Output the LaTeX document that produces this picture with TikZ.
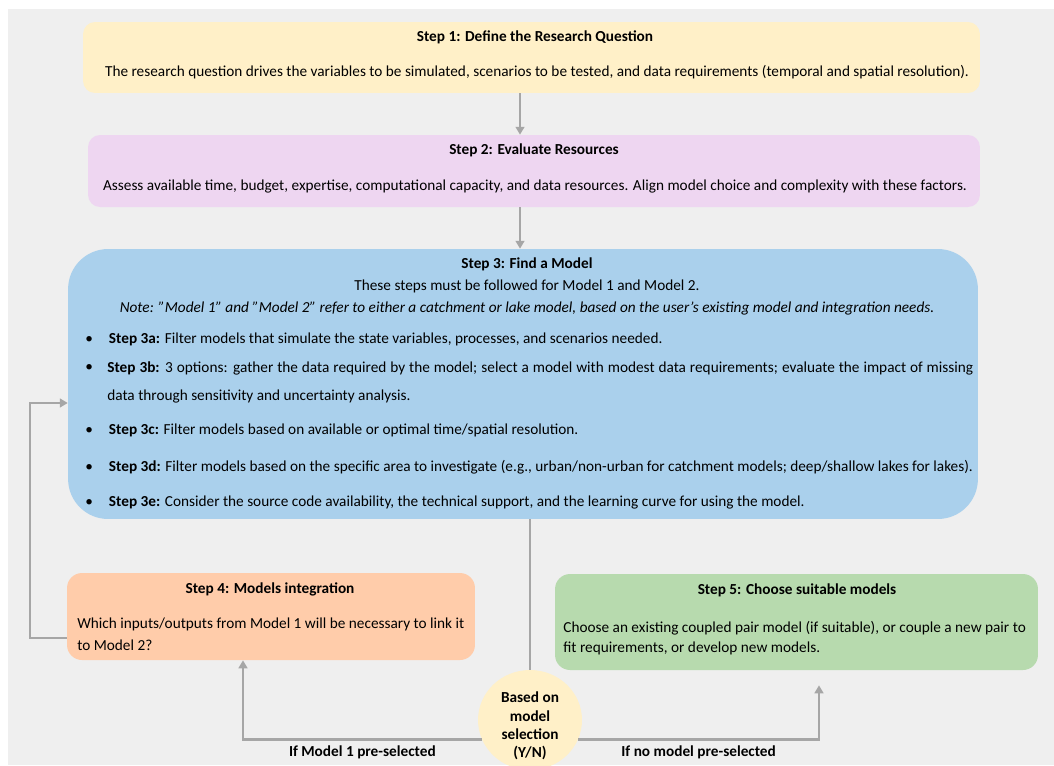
\documentclass[tikz,border=0pt]{standalone}
\usepackage{fontspec}
\setmainfont{Carlito}
\usetikzlibrary{arrows.meta,calc,positioning,shapes.geometric}
\definecolor{panelgray}{RGB}{239,239,239}
\definecolor{stepyellow}{RGB}{255,240,200}
\definecolor{steplilac}{RGB}{238,214,241}
\definecolor{stepblue}{RGB}{170,208,236}
\definecolor{steporange}{RGB}{255,204,170}
\definecolor{stepgreen}{RGB}{183,218,174}
\definecolor{flowgray}{RGB}{166,166,166}
\tikzset{
  stepbox/.style={rounded corners=0.24cm,inner sep=0pt},
  body/.style={font=\fontsize{8.7}{10.5}\selectfont,inner sep=0pt},
  head/.style={font=\fontsize{8.7}{10.5}\selectfont\bfseries,inner sep=0pt},
  flow/.style={draw=flowgray,line width=1.4pt,-{Triangle[width=5pt,length=4.5pt]}},
  link/.style={draw=flowgray,line width=1.4pt}
}

\begin{document}
\begin{tikzpicture}[x=0.02cm,y=-0.02cm]
  \useasboundingbox (0,0) rectangle (1054,765);
  % grauer Hintergrund
  \fill[panelgray] (8,9) rectangle (1054,765);

  % Step 1
  \node[stepbox,fill=stepyellow,minimum width=17.94cm,minimum height=1.42cm]
    (s1) at (531.5,57.5) {};
  \node[head] (s1h) at (535,37) {Step 1: Define the Research Question};
  \node[body] (s1b) at (537,72)
    {The research question drives the variables to be simulated, scenarios to be tested, and data requirements (temporal and spatial resolution).};

  % Step 2
  \node[stepbox,fill=steplilac,minimum width=17.84cm,minimum height=1.44cm]
    (s2) at (534,171) {};
  \node[head] (s2h) at (534,150) {Step 2: Evaluate Resources};
  \node[body] (s2b) at (535,186)
    {Assess available time, budget, expertise, computational capacity, and data resources. Align model choice and complexity with these factors.};

  % Step 3
  \node[stepbox,rounded corners=0.8cm,fill=stepblue,minimum width=18.2cm,minimum height=5.4cm]
    (s3) at (523,384) {};
  \node[head] (s3h) at (527,264) {Step 3: Find a Model};
  \node[body] (s3b) at (527,286) {These steps must be followed for Model 1 and Model 2.};
  \node[body] (s3n) at (527,308)
    {\itshape Note: "Model 1" and "Model 2" refer to either a catchment or lake model, based on the user’s existing model and integration needs.};

  \node[body,anchor=west] (s3a) at (85,339)
    {\textbullet\hspace{0.32cm}\textbf{Step 3a:} Filter models that simulate the state variables, processes, and scenarios needed.};
  \node[body,anchor=west] (s3bb) at (85,368) {\textbullet};
  \node[body,anchor=west,text width=17.32cm,align=justify,font=\fontsize{8.7}{15.9}\selectfont] (s3bt) at (107,382)
    {\textbf{Step 3b:} 3 options: gather the data required by the model; select a model with modest data requirements; evaluate the impact of missing data through sensitivity and uncertainty analysis.};
  \node[body,anchor=west] (s3c) at (85,430)
    {\textbullet\hspace{0.32cm}\textbf{Step 3c:} Filter models based on available or optimal time/spatial resolution.};
  \node[body,anchor=west] (s3d) at (85,467)
    {\textbullet\hspace{0.32cm}\textbf{Step 3d:} Filter models based on the specific area to investigate (e.g., urban/non-urban for catchment models; deep/shallow lakes for lakes).};
  \node[body,anchor=west] (s3e) at (85,502)
    {\textbullet\hspace{0.32cm}\textbf{Step 3e:} Consider the source code availability, the technical support, and the learning curve for using the model.};

  % Step 4
  \node[stepbox,rounded corners=0.3cm,fill=steporange,minimum width=8.16cm,minimum height=1.74cm]
    (s4) at (271,616.5) {};
  \node[head] (s4h) at (270,589) {Step 4: Models integration};
  \node[body,anchor=west,align=left,font=\fontsize{8.7}{12.5}\selectfont] (s4b) at (77,634)
    {Which inputs/outputs from Model 1 will be necessary to link it\\to Model 2?};

  % Step 5
  \node[stepbox,rounded corners=0.3cm,fill=stepgreen,minimum width=9.66cm,minimum height=1.92cm]
    (s5) at (796.5,622) {};
  \node[head] (s5h) at (797,590) {Step 5: Choose suitable models};
  \node[body,anchor=west,align=left,font=\fontsize{8.7}{11.3}\selectfont] (s5b) at (563,638)
    {Choose an existing coupled pair model (if suitable), or couple a new pair to\\fit requirements, or develop new models.};

  % Auswahl
  \node[ellipse,fill=stepyellow,inner sep=0pt,minimum width=2.08cm,minimum height=2cm]
    (sel) at (530,720) {};
  \node[head,align=center,font=\fontsize{8.7}{10.4}\selectfont\bfseries] (selt) at (530,726)
    {Based on\\model\\selection\\(Y/N)};
  \coordinate (r5) at ([xshift=0.45cm,yshift=-0.3cm]s5.south);

  % Verbindungen
  \draw[flow] ([xshift=-0.23cm]s1.south) -- ([xshift=-0.23cm]s1.south |- s2.north);
  \draw[flow] ([xshift=-0.28cm]s2.south) -- ([xshift=-0.28cm]s2.south |- s3.north);
  \draw[link] (sel.north) -- (sel.north |- s3.south);
  \draw[flow] (sel.202) -| ([xshift=-0.56cm]s4.south)
    node[pos=0.25,below=3pt,head] (l4) {If Model 1 pre-selected};
  \draw[flow] (sel.338) -| (r5)
    node[pos=0.25,below=3pt,head] (l5) {If no model pre-selected};
  \draw[flow] ([yshift=-0.43cm]s4.west) -| (30,520) |- ([yshift=-0.38cm]s3.west);
\end{tikzpicture}
\end{document}
